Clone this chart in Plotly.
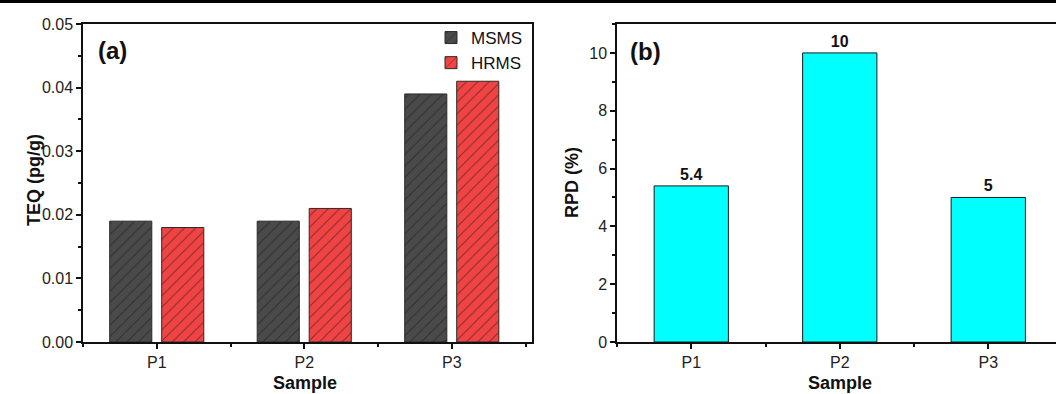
import plotly.graph_objects as go

categories = ["P1", "P2", "P3"]
msms = [0.019, 0.019, 0.039]
hrms = [0.018, 0.021, 0.041]
rpd = [5.4, 10, 5]
rpd_labels = ["5.4", "10", "5"]

xpos = list(range(1, len(categories) + 1))
W, H = 1056, 394
FONT = "Liberation Sans, Arial, sans-serif"

def px_x(p):
    return p / W

def px_y(p):
    return 1 - p / H

fig = go.Figure()
fig.add_trace(go.Bar(
    x=xpos, y=msms, name="MSMS", xaxis="x", yaxis="y",
    marker=dict(color="#4a4a4a", line=dict(color="#2a2a2a", width=1),
                pattern=dict(shape="/", fgcolor="#111111", bgcolor="#4a4a4a", size=8, solidity=0.12)),
))
fig.add_trace(go.Bar(
    x=xpos, y=hrms, name="HRMS", xaxis="x", yaxis="y",
    marker=dict(color="#f04444", line=dict(color="#2a2a2a", width=1),
                pattern=dict(shape="/", fgcolor="#111111", bgcolor="#f04444", size=8, solidity=0.12)),
))
fig.add_trace(go.Bar(
    x=xpos, y=rpd, name="RPD", xaxis="x2", yaxis="y2", showlegend=False,
    width=0.5,
    marker=dict(color="#00ffff", line=dict(color="#1a1a1a", width=1)),
    text=rpd_labels, textposition="outside", cliponaxis=False,
    textfont=dict(family=FONT, size=16, color="#111111", weight="bold"),
))

axis_common = dict(
    showline=True, linecolor="#111111", linewidth=1.5, ticks="outside",
    tickcolor="#111111", ticklen=5, tickwidth=1.5, showgrid=False, zeroline=False,
    automargin=False,
    tickfont=dict(family=FONT, size=16, color="#222222"),
)

fig.update_layout(
    width=W, height=H, margin=dict(l=0, r=0, t=0, b=0, autoexpand=False),
    paper_bgcolor="white", plot_bgcolor="white",
    barmode="group", bargap=0.295, bargroupgap=0.19,
    font=dict(family=FONT),
    xaxis=dict(domain=[px_x(83), px_x(532)], range=[0.5, 3.544], tickvals=xpos, ticktext=categories,
               mirror=True, anchor="y",
               minor=dict(tick0=0.5, dtick=1, ticks="outside", ticklen=3, tickcolor="#111111"),
               **axis_common),
    yaxis=dict(domain=[px_y(342), px_y(24)], range=[0, 0.05], dtick=0.01, tickformat=".2f",
               mirror=True, anchor="x",
               minor=dict(dtick=0.005, ticks="outside", ticklen=3, tickcolor="#111111"),
               **axis_common),
    xaxis2=dict(domain=[px_x(617), 1], range=[0.5, 3.456], tickvals=xpos, ticktext=categories,
                mirror=True, anchor="y2",
                minor=dict(tick0=0.5, dtick=1, ticks="outside", ticklen=3, tickcolor="#111111"),
                **axis_common),
    yaxis2=dict(domain=[px_y(342), px_y(24)], range=[0, 11], dtick=2,
                mirror=False, anchor="x2",
                minor=dict(dtick=1, ticks="outside", ticklen=3, tickcolor="#111111"),
                **axis_common),
    legend=dict(x=px_x(527), y=px_y(20), xanchor="right", yanchor="top",
                bgcolor="rgba(0,0,0,0)", font=dict(family=FONT, size=17, color="#111111"),
                tracegroupgap=0, itemwidth=30),
    showlegend=True,
)

annos = [
    dict(text="<b>(a)</b>", x=px_x(96), y=px_y(50), xanchor="left", yanchor="middle", size=24),
    dict(text="<b>(b)</b>", x=px_x(628), y=px_y(52), xanchor="left", yanchor="middle", size=24),
    dict(text="<b>Sample</b>", x=px_x(305), y=px_y(395), xanchor="center", yanchor="bottom", size=18),
    dict(text="<b>Sample</b>", x=px_x(840), y=px_y(395), xanchor="center", yanchor="bottom", size=18),
]
for a in annos:
    fig.add_annotation(text=a["text"], xref="paper", yref="paper", x=a["x"], y=a["y"],
                       xanchor=a["xanchor"], yanchor=a["yanchor"], showarrow=False,
                       font=dict(family=FONT, size=a["size"], color="#111111"))
fig.add_annotation(text="<b>TEQ (pg/g)</b>", xref="paper", yref="paper", x=px_x(22), y=px_y(180),
                   textangle=-90, showarrow=False, font=dict(family=FONT, size=18, color="#111111"))
fig.add_annotation(text="<b>RPD (%)</b>", xref="paper", yref="paper", x=px_x(572), y=px_y(183),
                   textangle=-90, showarrow=False, font=dict(family=FONT, size=18, color="#111111"))

fig.add_shape(type="line", xref="paper", yref="paper", x0=0, x1=1, y0=px_y(1.5), y1=px_y(1.5),
              line=dict(color="black", width=3))

fig.write_html("out.html", config={"displayModeBar": False},
               post_script="document.body.style.margin='0';document.body.style.overflow='hidden';")
